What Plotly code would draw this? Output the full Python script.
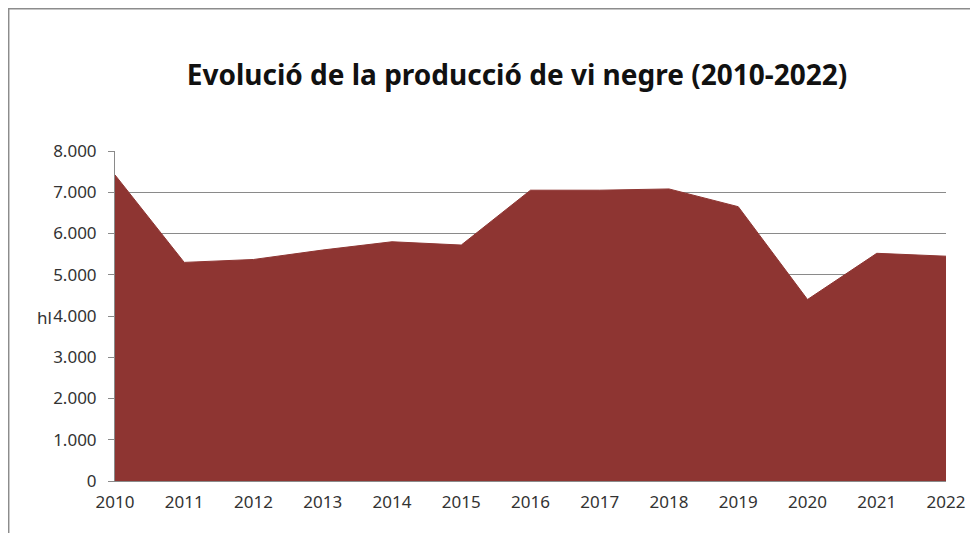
import plotly.graph_objects as go

years = [2010, 2011, 2012, 2013, 2014, 2015, 2016, 2017, 2018, 2019, 2020, 2021, 2022]
production_hl = [7420, 5300, 5370, 5600, 5800, 5720, 7050, 7050, 7080, 6650, 4400, 5520, 5450]
y_ticks = [0, 1000, 2000, 3000, 4000, 5000, 6000, 7000, 8000]

# page is offset by the default 8px body margin
OFF = 8
PW, PH = 978, 533
W, H = PW - OFF, PH - OFF
L, R, T, B = 115 - OFF, 978 - 946, 151 - OFF, 533 - 481
pw, ph = W - L - R, H - T - B

def px(x):
    return (x - OFF - L) / pw

def py(y):
    return (H - B - (y - OFF)) / ph

fig = go.Figure()
fig.add_trace(go.Scatter(
    x=years, y=production_hl, mode="lines", fill="tozeroy",
    line=dict(color="#8E3532", width=1), fillcolor="#8E3532",
    hoverinfo="x+y", showlegend=False,
))

FONT = "Noto Sans, Open Sans, sans-serif"
fig.update_layout(
    width=W, height=H,
    margin=dict(l=L, r=R, t=T, b=B),
    paper_bgcolor="white", plot_bgcolor="white",
    separators=",.",
    font=dict(family=FONT, size=17, color="#333333"),
    title=dict(
        text="Evolució de la producció de vi negre (2010-2022)",
        x=px(517), xanchor="center", xref="paper",
        y=1 - (75 - OFF) / H, yanchor="middle", yref="container",
        font=dict(family=FONT, size=28, color="#111111", weight=700),
    ),
    xaxis=dict(
        range=[2010, 2022], tickmode="array", tickvals=years,
        ticktext=[str(y) for y in years],
        showgrid=False, showline=True, linecolor="#8a8a8a", linewidth=1,
        ticks="", zeroline=False, tickfont=dict(size=17, color="#333333"),
        ticklabelstandoff=6,
    ),
    yaxis=dict(
        range=[0, 8000], tickmode="array", tickvals=y_ticks,
        tickformat=",d",
        showgrid=True, gridcolor="#8a8a8a", gridwidth=1,
        showline=True, linecolor="#8a8a8a", linewidth=1,
        ticks="outside", ticklen=6, tickcolor="#8a8a8a",
        zeroline=False, tickfont=dict(size=17, color="#333333"),
        ticklabelstandoff=8,
    ),
    annotations=[dict(
        text="hl", xref="paper", yref="paper", x=px(35), y=py(317),
        xanchor="left", yanchor="middle", showarrow=False,
        font=dict(size=17, color="#333333"),
    )],
    shapes=[
        dict(type="line", xref="paper", yref="paper", x0=px(8), x1=px(990), y0=py(8.7), y1=py(8.7),
             line=dict(color="#8c8c8c", width=1.5)),
        dict(type="line", xref="paper", yref="paper", x0=px(8.7), x1=px(8.7), y0=py(8), y1=py(545),
             line=dict(color="#8c8c8c", width=1.5)),
    ],
)

fig.write_html("out.html")
